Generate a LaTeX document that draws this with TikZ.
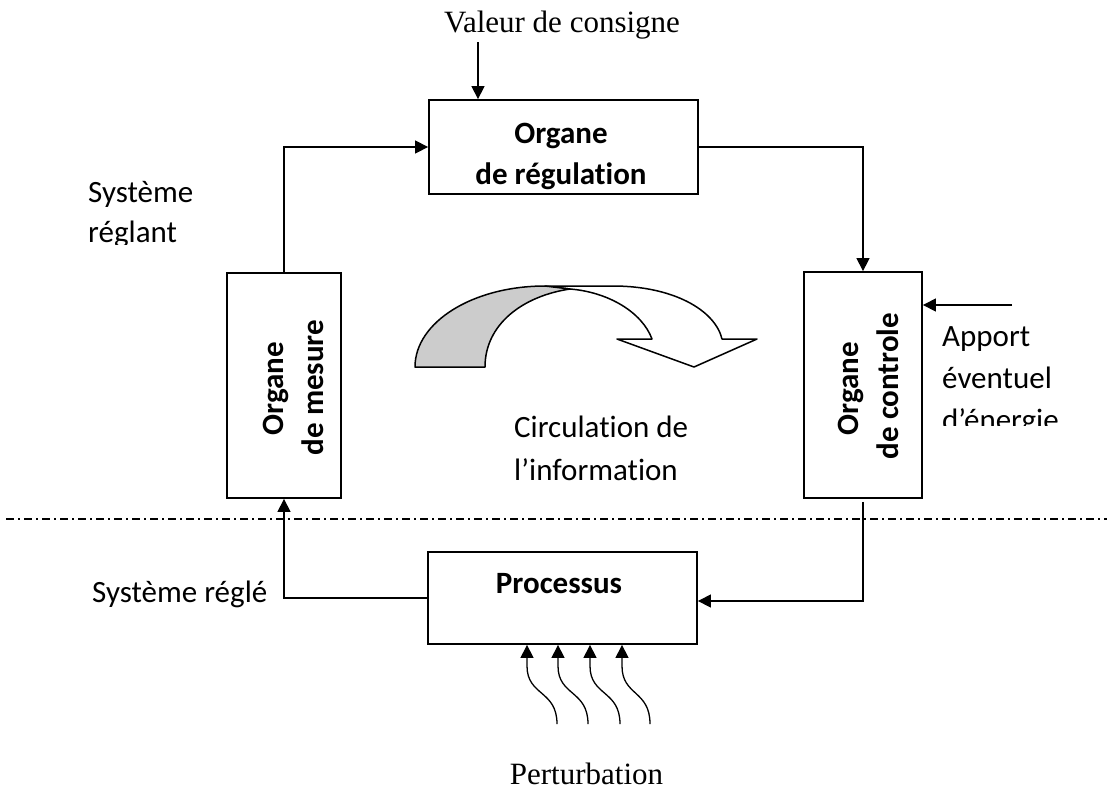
\documentclass[tikz,border=0pt]{standalone}
\usepackage{fontspec}
\setmainfont{Liberation Serif}
\newfontfamily\calib[Ligatures=NoCommon]{Carlito}
\usetikzlibrary{arrows.meta,calc}
\begin{document}
\begin{tikzpicture}[x=1pt,y=-1pt,
  box/.style={draw,line width=1.8pt,inner sep=0pt},
  conn/.style={line width=1.3pt,-{Triangle[length=13pt,width=13pt]}},
  dashdotline/.style={line width=1.5pt,dash pattern=on 8pt off 4pt on 2pt off 4pt},
  sans/.style={font=\calib\fontsize{31}{41}\selectfont,inner sep=0pt},
  sansb/.style={font=\calib\bfseries\fontsize{31}{41}\selectfont,inner sep=0pt},
  serif/.style={font=\fontsize{31}{41}\selectfont,inner sep=0pt},
  bigarrow/.style={line width=1.5pt,line join=round}]
\useasboundingbox (0,0) rectangle (1107,793);

% boxes
\node[box,minimum width=269pt,minimum height=94pt] (reg) at (563.5,147) {};
\node[box,minimum width=114pt,minimum height=225pt] (mes) at (284,385.5) {};
\node[box,minimum width=118pt,minimum height=226pt] (ctl) at (863,385) {};
\node[box,minimum width=269pt,minimum height=92pt] (proc) at (562.5,598) {};

% box texts
\node[sansb,anchor=base] (reg1) at (561,143) {Organe};
\node[sansb,anchor=base] (reg2) at (561,184) {de régulation};
\node[sansb,anchor=base] (proct) at (559,593) {Processus};
\node[sansb,anchor=base,rotate=90] (mes1) at (283,388.5) {Organe};
\node[sansb,anchor=base,rotate=90] (mes2) at (323,387.5) {de mesure};
\node[sansb,anchor=base,rotate=90] (ctl1) at (858,388.5) {Organe};
\node[sansb,anchor=base,rotate=90] (ctl2) at (898,386) {de controle};

% free texts
\node[serif,anchor=base] (cons) at (562,32) {Valeur de consigne};
\node[serif,anchor=base] (pert) at (586.5,784) {Perturbation};
\node[sans,anchor=base west] (sr1) at (88,202) {Système};
\begin{scope}
\clip (80,215) rectangle (400,244);
\node[sans,anchor=base west] (sr2) at (88,242) {réglant};
\end{scope}
\node[sans,anchor=base west] (sre) at (92,602) {Système réglé};
\node[sans,anchor=base west] (ap1) at (942,346) {Apport};
\node[sans,anchor=base west] (ap2) at (942,388) {éventuel};
\begin{scope}
\clip (930,400) rectangle (1107,425);
\node[sans,anchor=base west] (ap3) at (942,430) {d’énergie};
\end{scope}
\node[sans,anchor=base west] (ci1) at (514,437.5) {Circulation de};
\node[sans,anchor=base west] (ci2) at (514,480) {l’information};

% connectors
\coordinate (consin) at (478,42);
\coordinate (enin) at (1012,305);
\draw[conn] (mes.north) |- (reg.west);
\draw[conn] (reg.east) -| (ctl.north);
\draw[conn] (consin) -- (consin |- reg.north);
\draw[conn] (enin) -- (enin -| ctl.east);
\draw[conn] ([yshift=-3pt]ctl.south) |- ([yshift=-3pt]proc.east);
\draw[conn] (proc.west) -| (mes.south);

% dash-dot separation
\coordinate (dl) at (6,519);
\coordinate (dr) at (1107,519);
\draw[dashdotline] (dl) -- (dr);

% perturbation arrows
\foreach \i/\xb/\xt in {1/557/527,2/588/558,3/620/590,4/650/622}{
  \coordinate (pb\i) at (\xb,724);
  \coordinate (pt\i) at (\xt,666);
  \draw[conn] (pb\i) .. controls +(0,-34) and +(0,30) .. (pt\i) -- (pt\i |- proc.south);
}

% curved information arrow
\draw[bigarrow,fill=white] (545,286) -- (613,286)
  .. controls (673,286) and (715,310) .. (722,339)
  -- (757,339) -- (694,367) -- (617,339) -- (652,339)
  .. controls (642,312) and (608,292) .. (570,289) -- cycle;
\draw[bigarrow,fill=gray!40] (415,367)
  .. controls (415,322) and (473,286) .. (545,286)
  -- (570,289)
  .. controls (523,296) and (485,324) .. (485,367) -- cycle;
\end{tikzpicture}
\end{document}
